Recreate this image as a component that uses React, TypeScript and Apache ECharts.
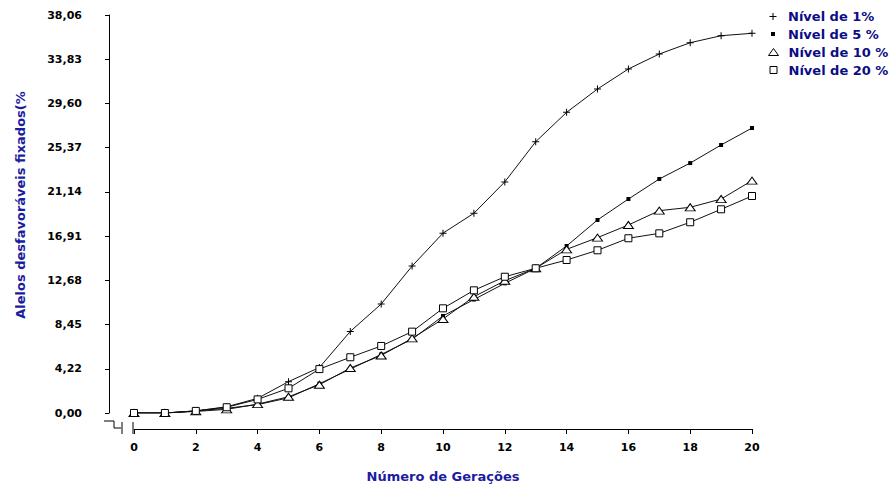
import React, { useEffect, useRef } from "react";
import * as echarts from "echarts";

const generations = [0, 1, 2, 3, 4, 5, 6, 7, 8, 9, 10, 11, 12, 13, 14, 15, 16, 17, 18, 19, 20];
const nivel1 = [0, 0, 0.2, 0.6, 1.4, 3.0, 4.35, 7.8, 10.42, 14.05, 17.2, 19.1, 22.1, 25.94, 28.75, 30.98, 32.9, 34.33, 35.41, 36.08, 36.31];
const nivel5 = [0, 0, 0.2, 0.45, 0.8, 1.45, 2.8, 4.2, 5.6, 7.05, 9.28, 10.85, 12.4, 13.84, 15.97, 18.46, 20.46, 22.38, 23.9, 25.63, 27.25];
const nivel10 = [0, 0, 0.15, 0.35, 0.85, 1.55, 2.7, 4.3, 5.5, 7.14, 8.99, 11.12, 12.65, 13.84, 15.65, 16.77, 17.98, 19.35, 19.67, 20.46, 22.22];
const nivel20 = [0, 0, 0.2, 0.55, 1.3, 2.36, 4.2, 5.33, 6.41, 7.78, 10.01, 11.73, 13.03, 13.84, 14.63, 15.56, 16.71, 17.18, 18.24, 19.48, 20.75];
const seriesNames = ["Nível de 1%", "Nível de 5 %", "Nível de 10 %", "Nível de 20 %"];
const yTickLabels = ["0,00", "4,22", "8,45", "12,68", "16,91", "21,14", "25,37", "29,60", "33,83", "38,06"];
const yMax = 38.06;
const xMax = 20;
const yTitle = "Alelos desfavoráveis fixados(%";
const xTitle = "Número de Gerações";

const FONT = "'DejaVu Sans', Verdana, sans-serif";
const TITLE_BLUE = "#1c1ca0";
const LEGEND_BLUE = "#0c0c86";
const PLUS = "path://M3,0H4V3H7V4H4V7H3V4H0V3H3Z";

export default function App() {
  const ref = useRef<HTMLDivElement>(null);
  useEffect(() => {
    if (!ref.current) return;
    const chart = echarts.init(ref.current, null, { renderer: "svg" });
    const yStep = yMax / 9;
    const pairs = (vals: number[]) => generations.map((g, i) => [g, vals[i]]);
    const lineBase = {
      type: "line",
      lineStyle: { color: "#111", width: 1 },
      showSymbol: true,
      emphasis: { disabled: true },
    };
    const legendItem = (i: number, icon: string, w: number, h: number, itemStyle: any, top: number) => ({
      orient: "vertical",
      left: 773 - w / 2,
      top: top - 8,
      itemWidth: w,
      itemHeight: h,
      itemGap: 0,
      padding: 0,
      selectedMode: false,
      textStyle: { color: LEGEND_BLUE, fontWeight: "bold", fontSize: 13, fontFamily: FONT, lineHeight: 16, padding: [0, 0, 0, 15 - w / 2 - 5] },
      data: [{ name: seriesNames[i], icon, itemStyle }],
    });
    chart.setOption({
      animation: false,
      backgroundColor: "#fff",
      grid: { left: 134, right: 140, top: 15, bottom: 75 },
      legend: [
        legendItem(0, PLUS, 7, 7, { color: "#000", borderWidth: 0 }, 16.5),
        legendItem(1, "rect", 4, 4, { color: "#000", borderWidth: 0 }, 34),
        legendItem(2, "triangle", 10, 7, { color: "#fff", borderColor: "#000", borderWidth: 1 }, 52),
        legendItem(3, "rect", 7, 7, { color: "#fff", borderColor: "#000", borderWidth: 1 }, 70),
      ],
      xAxis: {
        type: "value",
        min: 0,
        max: xMax,
        interval: 2,
        offset: 16,
        splitLine: { show: false },
        axisLine: { show: true, onZero: false, lineStyle: { color: "#000", width: 1 } },
        axisTick: { show: true, length: 5, lineStyle: { color: "#000" } },
        axisLabel: { color: "#000", fontWeight: "bold", fontSize: 11, fontFamily: FONT, margin: 13 },
        name: xTitle,
        nameLocation: "middle",
        nameGap: 41,
        nameTextStyle: { color: TITLE_BLUE, fontWeight: "bold", fontSize: 13, fontFamily: FONT },
      },
      yAxis: {
        type: "value",
        min: 0,
        max: yMax,
        interval: yStep,
        offset: 25,
        splitLine: { show: false },
        axisLine: { show: true, onZero: false, lineStyle: { color: "#000", width: 1 } },
        axisTick: { show: true, length: 4, lineStyle: { color: "#000" } },
        axisLabel: {
          color: "#000",
          fontWeight: "bold",
          fontSize: 11,
          fontFamily: FONT,
          margin: 27,
          formatter: (v: number) => yTickLabels[Math.round(v / yStep)] ?? "",
        },
        name: yTitle,
        nameLocation: "middle",
        nameGap: 82,
        nameRotate: 90,
        nameTextStyle: { color: TITLE_BLUE, fontWeight: "bold", fontSize: 13, fontFamily: FONT, padding: [0, 0, 0, 18] },
      },
      graphic: [
        { type: "polyline", shape: { points: [[104, 421], [114, 421], [114, 428], [121, 428]] }, style: { stroke: "#000", lineWidth: 1, fill: null } },
        { type: "line", shape: { x1: 122, y1: 422, x2: 122, y2: 434 }, style: { stroke: "#000", lineWidth: 1 } },
        { type: "line", shape: { x1: 133, y1: 422, x2: 133, y2: 434 }, style: { stroke: "#000", lineWidth: 1 } },
      ],
      series: [
        { ...lineBase, name: seriesNames[0], data: pairs(nivel1), symbol: PLUS, symbolSize: 7, itemStyle: { color: "#000", borderWidth: 0 } },
        { ...lineBase, name: seriesNames[1], data: pairs(nivel5), symbol: "rect", symbolSize: 4, itemStyle: { color: "#000", borderWidth: 0 } },
        { ...lineBase, name: seriesNames[2], data: pairs(nivel10), symbol: "triangle", symbolSize: [10, 7], itemStyle: { color: "#fff", borderColor: "#000", borderWidth: 1 } },
        { ...lineBase, name: seriesNames[3], data: pairs(nivel20), symbol: "rect", symbolSize: 7, itemStyle: { color: "#fff", borderColor: "#000", borderWidth: 1 } },
      ],
    });
    return () => chart.dispose();
  }, []);
  return <div ref={ref} style={{ position: "absolute", left: 0, top: 0, width: 892, height: 488 }} />;
}
